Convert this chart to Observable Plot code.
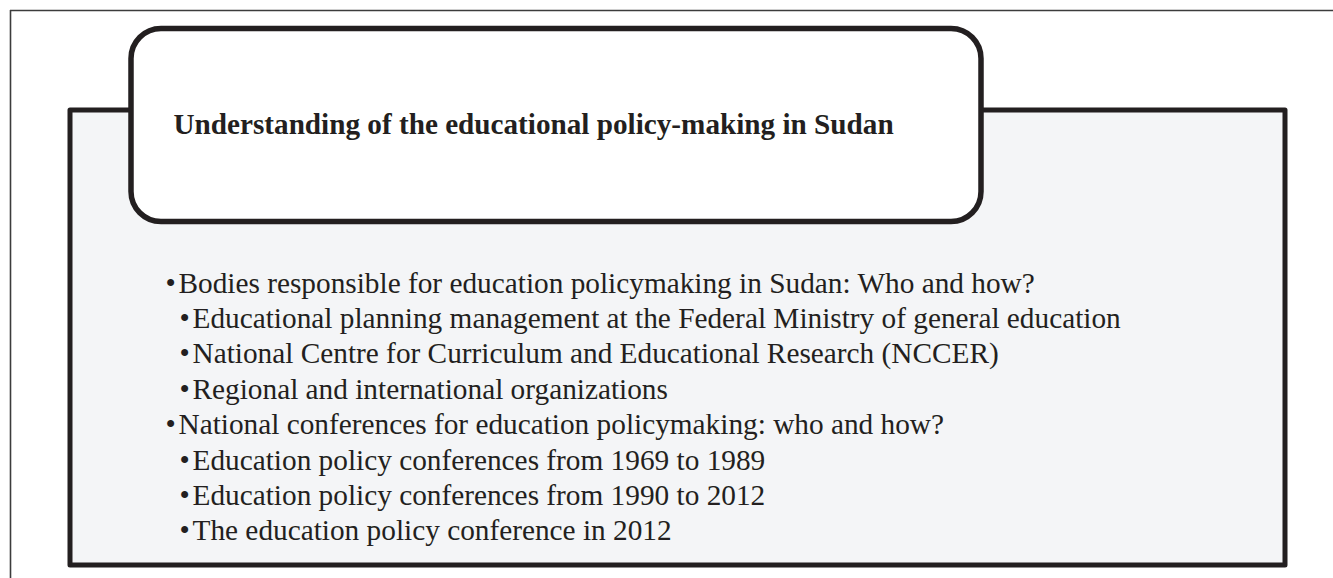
<!DOCTYPE html>
<html>
<head>
<meta charset="utf-8">
<script src="https://cdn.jsdelivr.net/npm/d3@7"></script>
<script src="https://cdn.jsdelivr.net/npm/@observablehq/plot@0.6"></script>
<style>
  html, body { margin: 0; padding: 0; background: #ffffff; }
  #chart svg { display: block; }
</style>
</head>
<body>
<div id="chart"></div>
<script>
// ---- content ----
const title = "Understanding of the educational policy-making in Sudan";
const itemTexts = [
  "Bodies responsible for education policymaking in Sudan: Who and how?",
  "Educational planning management at the Federal Ministry of general education",
  "National Centre for Curriculum and Educational Research (NCCER)",
  "Regional and international organizations",
  "National conferences for education policymaking: who and how?",
  "Education policy conferences from 1969 to 1989",
  "Education policy conferences from 1990 to 2012",
  "The education policy conference in 2012"
];
const itemLevels = [0, 1, 1, 1, 0, 1, 1, 1];

// ---- layout (pixel space) ----
const W = 1333, H = 578;
const ink = "#231f20";
const panelFill = "#f4f5f7";
const frame = [{x1: 70, x2: 1285, y1: 110, y2: 565}];
const header = [{x1: 131, x2: 981, y1: 28.5, y2: 221.5}];
const firstBaseline = 292, lineStep = 35.4;
const bulletX = [165, 179];
const textGap = 13;

const items = itemTexts.map((t, i) => ({
  label: t,
  bx: bulletX[itemLevels[i]],
  tx: bulletX[itemLevels[i]] + textGap,
  y: firstBaseline + i * lineStep
}));

const chart = Plot.plot({
  width: W,
  height: H,
  margin: 0,
  style: {background: "#ffffff"},
  x: {domain: [0, W], range: [0, W], axis: null},
  y: {domain: [0, H], range: [0, H], axis: null},
  marks: [
    // outer figure border (top and left)
    Plot.ruleY([10], {x1: 10, x2: W, stroke: "#3c3c3c", strokeWidth: 1.6}),
    Plot.ruleX([10], {y1: 10, y2: H, stroke: "#3c3c3c", strokeWidth: 1.6}),
    // back panel
    Plot.rect(frame, {x1: "x1", x2: "x2", y1: "y1", y2: "y2", fill: panelFill, stroke: ink, strokeWidth: 5, strokeLinejoin: "round"}),
    // rounded header box
    Plot.rect(header, {x1: "x1", x2: "x2", y1: "y1", y2: "y2", fill: "#ffffff", stroke: ink, strokeWidth: 5.5, rx: 30}),
    // title
    Plot.text([title], {x: () => 173, y: () => 133, text: d => d, textAnchor: "start", lineAnchor: "bottom",
      fontFamily: "Liberation Serif", fontWeight: "bold", fontSize: 29.2, fill: ink}),
    // bullets
    Plot.text(items, {x: "bx", y: "y", text: () => "\u2022", textAnchor: "start", lineAnchor: "bottom",
      fontFamily: "Liberation Serif", fontSize: 29.3, fill: ink}),
    // bullet list text
    Plot.text(items, {x: "tx", y: "y", text: "label", textAnchor: "start", lineAnchor: "bottom",
      fontFamily: "Liberation Serif", fontSize: 29.3, fill: ink})
  ]
});
document.getElementById("chart").append(chart);
</script>
</body>
</html>
